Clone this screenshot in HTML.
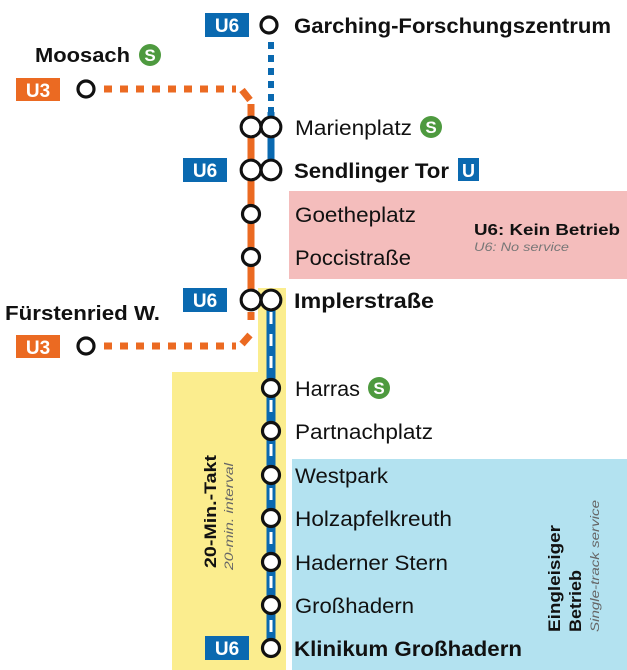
<!DOCTYPE html>
<html><head><meta charset="utf-8"><style>
html,body{margin:0;padding:0;background:#fff;}
svg{display:block;font-family:"Liberation Sans",sans-serif;}
.st{font-size:21px;fill:#111;}
.b{font-weight:bold;}
.badge{font-weight:bold;font-size:19px;fill:#fff;}
</style></head><body>
<svg width="627" height="670" viewBox="0 0 627 670" xmlns="http://www.w3.org/2000/svg">
<rect x="289" y="191" width="338" height="88" fill="#f4bdbc"/>
<rect x="258" y="288" width="28" height="382" fill="#fbed8e"/>
<rect x="172" y="372" width="114" height="298" fill="#fbed8e"/>
<rect x="292" y="459" width="335" height="211" fill="#b3e2f0"/>

<line x1="271" y1="42" x2="271" y2="112" stroke="#0a69b0" stroke-width="6" stroke-dasharray="7,6"/>
<line x1="104" y1="89" x2="236" y2="89" stroke="#eb6a22" stroke-width="7" stroke-dasharray="8,8"/>
<line x1="242" y1="90" x2="250" y2="100" stroke="#eb6a22" stroke-width="7"/>
<line x1="251" y1="104" x2="251" y2="300" stroke="#eb6a22" stroke-width="7"/>
<line x1="271" y1="112" x2="271" y2="170" stroke="#0a69b0" stroke-width="7"/>
<line x1="251" y1="312" x2="251" y2="328" stroke="#eb6a22" stroke-width="7" stroke-dasharray="8,8"/>
<line x1="104" y1="346" x2="236" y2="346" stroke="#eb6a22" stroke-width="7" stroke-dasharray="8,8"/>
<line x1="242" y1="344" x2="250" y2="335" stroke="#eb6a22" stroke-width="7"/>
<line x1="271" y1="300" x2="271" y2="648" stroke="#0a69b0" stroke-width="9"/>
<line x1="271" y1="312" x2="271" y2="640" stroke="#fff" stroke-width="3" stroke-dasharray="12,10"/>

<g fill="#fff" stroke="#111" stroke-width="3.2">
<circle cx="269" cy="25" r="8"/>
<circle cx="86" cy="89" r="8"/>
<circle cx="86" cy="346" r="8"/>
<circle cx="251" cy="127" r="9.8"/><circle cx="271" cy="127" r="9.8"/>
<circle cx="251" cy="170" r="9.8"/><circle cx="271" cy="170" r="9.8"/>
<circle cx="251" cy="214" r="8.5"/>
<circle cx="251" cy="257" r="8.5"/>
<circle cx="251" cy="300" r="9.8"/><circle cx="271" cy="300" r="9.8"/>
<circle cx="271" cy="388" r="8.5"/>
<circle cx="271" cy="431" r="8.5"/>
<circle cx="271" cy="475" r="8.5"/>
<circle cx="271" cy="518" r="8.5"/>
<circle cx="271" cy="562" r="8.5"/>
<circle cx="271" cy="605" r="8.5"/>
<circle cx="271" cy="648" r="8.5"/>
</g>
<g fill="#fff">
<circle cx="251" cy="127" r="8.2"/><circle cx="271" cy="127" r="8.2"/>
<circle cx="251" cy="170" r="8.2"/><circle cx="271" cy="170" r="8.2"/>
<circle cx="251" cy="300" r="8.2"/><circle cx="271" cy="300" r="8.2"/>
</g>

<rect x="205" y="13" width="44" height="24" fill="#0a69b0"/><text x="227" y="32" text-anchor="middle" class="badge">U6</text>
<rect x="183" y="158" width="44" height="24" fill="#0a69b0"/><text x="205" y="177" text-anchor="middle" class="badge">U6</text>
<rect x="183" y="288" width="44" height="24" fill="#0a69b0"/><text x="205" y="307" text-anchor="middle" class="badge">U6</text>
<rect x="205" y="636" width="44" height="24" fill="#0a69b0"/><text x="227" y="655" text-anchor="middle" class="badge">U6</text>
<rect x="16" y="78" width="44" height="23" fill="#eb6a22"/><text x="38" y="97" text-anchor="middle" class="badge">U3</text>
<rect x="16" y="335" width="44" height="23" fill="#eb6a22"/><text x="38" y="354" text-anchor="middle" class="badge">U3</text>

<text x="294" y="33" class="st b" textLength="317" lengthAdjust="spacingAndGlyphs">Garching-Forschungszentrum</text>
<text x="35" y="62" class="st b" style="font-size:20px" textLength="95" lengthAdjust="spacingAndGlyphs">Moosach</text>
<text x="5" y="320" class="st b" style="font-size:20px" textLength="155" lengthAdjust="spacingAndGlyphs">Fürstenried W.</text>
<text x="295" y="135" class="st" textLength="117" lengthAdjust="spacingAndGlyphs">Marienplatz</text>
<text x="294" y="178" class="st b" textLength="155" lengthAdjust="spacingAndGlyphs">Sendlinger Tor</text>
<text x="295" y="222" class="st" textLength="121" lengthAdjust="spacingAndGlyphs">Goetheplatz</text>
<text x="295" y="265" class="st" textLength="116" lengthAdjust="spacingAndGlyphs">Poccistraße</text>
<text x="474" y="235" class="b" style="font-size:16px;fill:#111" textLength="146" lengthAdjust="spacingAndGlyphs">U6: Kein Betrieb</text>
<text x="474" y="251" style="font-size:12px;font-style:italic;fill:#777" textLength="95" lengthAdjust="spacingAndGlyphs">U6: No service</text>
<text x="294" y="308" class="st b" textLength="140" lengthAdjust="spacingAndGlyphs">Implerstraße</text>
<text x="295" y="396" class="st" textLength="65" lengthAdjust="spacingAndGlyphs">Harras</text>
<text x="295" y="439" class="st" textLength="138" lengthAdjust="spacingAndGlyphs">Partnachplatz</text>
<text x="295" y="483" class="st" textLength="93" lengthAdjust="spacingAndGlyphs">Westpark</text>
<text x="295" y="526" class="st" textLength="157" lengthAdjust="spacingAndGlyphs">Holzapfelkreuth</text>
<text x="295" y="570" class="st" textLength="153" lengthAdjust="spacingAndGlyphs">Haderner Stern</text>
<text x="295" y="613" class="st" textLength="119" lengthAdjust="spacingAndGlyphs">Großhadern</text>
<text x="294" y="656" class="st b" textLength="228" lengthAdjust="spacingAndGlyphs">Klinikum Großhadern</text>
<rect x="458" y="158" width="21" height="23" fill="#0a69b0"/><text x="468.5" y="177" text-anchor="middle" class="badge" style="font-size:18px">U</text>

<g font-weight="bold" font-size="17" text-anchor="middle" fill="#fff">
<circle cx="150" cy="55" r="11" fill="#4e9a3f"/><text x="150" y="61">S</text>
<circle cx="431" cy="127" r="11" fill="#4e9a3f"/><text x="431" y="133">S</text>
<circle cx="379" cy="388" r="11" fill="#4e9a3f"/><text x="379" y="394">S</text>
</g>

<text transform="translate(216,568) rotate(-90)" class="b" style="font-size:17px;fill:#111" textLength="113" lengthAdjust="spacingAndGlyphs">20-Min.-Takt</text>
<text transform="translate(233,570) rotate(-90)" style="font-size:12px;font-style:italic;fill:#666" textLength="107" lengthAdjust="spacingAndGlyphs">20-min. interval</text>
<text transform="translate(560,632) rotate(-90)" style="font-size:17px;font-weight:bold;fill:#111" textLength="107" lengthAdjust="spacingAndGlyphs">Eingleisiger</text>
<text transform="translate(581,632) rotate(-90)" style="font-size:17px;font-weight:bold;fill:#111" textLength="62" lengthAdjust="spacingAndGlyphs">Betrieb</text>
<text transform="translate(599,632) rotate(-90)" style="font-size:12px;font-style:italic;fill:#666" textLength="132" lengthAdjust="spacingAndGlyphs">Single-track service</text>
</svg>
</body></html>
